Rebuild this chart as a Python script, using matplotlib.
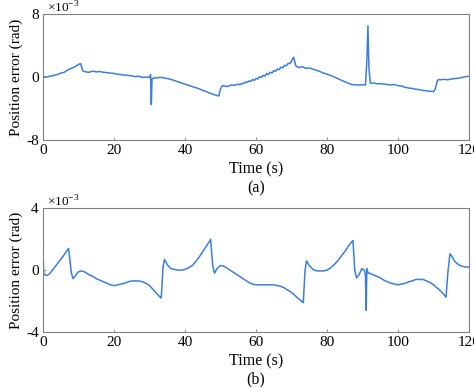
import matplotlib
matplotlib.use("Agg")
import matplotlib.pyplot as plt

# ---- data (position error, units of 1e-3 rad), (time s, error) pairs ----
top_points = [
    (0, 0.05), (1, 0.0), (2, 0.1), (3, 0.2), (4, 0.3), (5, 0.5), (6, 0.6), (7, 0.9),
    (8, 1.1), (9, 1.3), (10, 1.6), (10.6, 1.7), (11.2, 0.8), (12, 0.65), (13, 0.6),
    (14, 0.75), (15, 0.65), (16, 0.7), (17, 0.6), (18, 0.55), (19, 0.5), (20, 0.45),
    (21, 0.35), (22, 0.3), (23, 0.25), (24, 0.2), (25, 0.15), (26, 0.05), (27, 0.1),
    (28, -0.05), (29, 0.0), (30, -0.05), (30.3, 0.3), (30.5, -3.5), (30.7, -0.2),
    (31, -0.15), (32, -0.1), (33, -0.05), (34, -0.1), (35, -0.2), (36, -0.3),
    (37, -0.45), (38, -0.6), (39, -0.75), (40, -0.9), (41, -1.05), (42, -1.2),
    (43, -1.35), (44, -1.5), (45, -1.7), (46, -1.85), (47, -2.05), (48, -2.2),
    (49, -2.35), (49.5, -2.4), (50, -1.5), (50.5, -1.1), (51, -1.15), (52, -1.2),
    (53, -1.0), (54, -1.05), (55, -0.9), (55.5, -0.98), (56, -0.8), (56.5, -0.85),
    (57, -0.62), (57.5, -0.7), (58, -0.5), (58.5, -0.55), (59, -0.32), (59.5, -0.42),
    (60, -0.18), (60.5, -0.25), (61, 0.05), (61.5, -0.05), (62, 0.22), (62.5, 0.12),
    (63, 0.42), (63.5, 0.3), (64, 0.62), (64.5, 0.5), (65, 0.82), (65.5, 0.72),
    (66, 1.02), (66.5, 0.92), (67, 1.25), (67.5, 1.15), (68, 1.48), (68.5, 1.42),
    (69, 1.72), (69.5, 1.7), (70, 2.0), (70.3, 2.3), (70.6, 2.5), (71.2, 1.4),
    (72, 1.2), (73, 1.3), (74, 1.1), (75, 1.15), (76, 1.0), (77, 0.85), (78, 0.7),
    (79, 0.5), (80, 0.35), (81, 0.2), (82, 0.0), (83, -0.2), (84, -0.4), (85, -0.6),
    (86, -0.8), (87, -0.95), (88, -1.0), (89, -1.0), (90, -1.0), (90.8, -1.0),
    (91.2, 2.0), (91.5, 6.5), (91.8, 1.0), (92.2, -0.8), (93, -0.75), (94, -0.85),
    (95, -0.85), (96, -0.9), (97, -0.95), (98, -1.0), (99, -0.95), (100, -1.1),
    (101, -1.15), (102, -1.3), (103, -1.4), (104, -1.45), (105, -1.55), (106, -1.6),
    (107, -1.7), (108, -1.75), (109, -1.8), (110, -1.85), (110.5, -1.5), (111, -0.5),
    (111.5, -0.3), (112, -0.35), (113, -0.3), (114, -0.35), (115, -0.25), (116, -0.2),
    (117, -0.15), (118, -0.05), (119, 0.05), (120, 0.1),
]

bottom_points = [
    (0, 1.2), (0.2, -0.2), (0.5, -0.3), (1, -0.35), (1.5, -0.3), (2, -0.2), (3, 0.1),
    (4, 0.4), (5, 0.7), (6, 1.0), (7, 1.35), (7.2, 1.4), (7.6, 0.6), (8, -0.2),
    (8.5, -0.55), (9, -0.4), (10, -0.1), (11, -0.05), (12, -0.15), (13, -0.3),
    (14, -0.4), (15, -0.55), (16, -0.65), (17, -0.75), (18, -0.85), (19, -0.95),
    (20, -1.0), (21, -0.95), (22, -0.9), (23, -0.85), (24, -0.75), (25, -0.7),
    (26, -0.7), (27, -0.7), (28, -0.75), (29, -0.85), (30, -1.0), (31, -1.25),
    (32, -1.5), (33, -1.75), (33.3, -1.8), (33.8, 0.2), (34.2, 0.7), (35, 0.35),
    (36, 0.1), (37, 0.05), (38, 0.0), (39, 0.0), (40, 0.05), (41, 0.15), (42, 0.3),
    (43, 0.55), (44, 0.85), (45, 1.2), (46, 1.55), (47, 1.9), (47.2, 2.0), (47.8, 0.3),
    (48.3, -0.2), (49, 0.1), (50, 0.3), (51, 0.25), (52, 0.1), (53, -0.05), (54, -0.2),
    (55, -0.35), (56, -0.5), (57, -0.65), (58, -0.8), (59, -0.9), (60, -0.95),
    (61, -0.95), (62, -0.95), (63, -0.95), (64, -0.95), (65, -0.95), (66, -1.0),
    (67, -1.05), (68, -1.15), (69, -1.3), (70, -1.45), (71, -1.65), (72, -1.85),
    (73, -2.05), (73.3, -2.1), (73.8, 0.0), (74.2, 0.6), (75, 0.3), (76, 0.05),
    (77, -0.05), (78, -0.05), (79, -0.05), (80, 0.0), (81, 0.15), (82, 0.35), (83, 0.6),
    (84, 0.9), (85, 1.2), (86, 1.55), (87, 1.85), (87.3, 1.9), (87.8, 0.0), (88.3, -0.5),
    (89, -0.3), (89.8, 0.1), (90.5, 0.0), (90.8, -0.3), (91.0, -2.6), (91.2, 0.1),
    (91.6, -0.2), (92, -0.2), (93, -0.3), (94, -0.4), (95, -0.5), (96, -0.65),
    (97, -0.75), (98, -0.85), (99, -0.9), (100, -0.95), (101, -0.9), (102, -0.85),
    (103, -0.75), (104, -0.7), (105, -0.6), (106, -0.6), (107, -0.6), (108, -0.7),
    (109, -0.8), (110, -0.95), (111, -1.15), (112, -1.35), (113, -1.6), (113.5, -1.75),
    (114, -0.2), (114.6, 1.05), (115, 0.95), (116, 0.55), (117, 0.35), (118, 0.25),
    (119, 0.2), (120, 0.2),
]

top_t = [p[0] for p in top_points]
top_e = [p[1] for p in top_points]
bot_t = [p[0] for p in bottom_points]
bot_e = [p[1] for p in bottom_points]

x_ticks = [0, 20, 40, 60, 80, 100, 120]
top_yticks = [-8, 0, 8]
bot_yticks = [-4, 0, 4]

plt.rcParams['font.family'] = ['Liberation Serif', 'DejaVu Serif']
plt.rcParams['mathtext.fontset'] = 'custom'
plt.rcParams['mathtext.rm'] = 'Liberation Serif'

LINE = '#3a7ee0'
SPINE = '#808080'

fig = plt.figure(figsize=(4.74, 3.87), dpi=100)
ax1 = fig.add_axes([0.0907, 0.638, 0.899, 0.326])
ax2 = fig.add_axes([0.0907, 0.142, 0.899, 0.320])

for ax, t, e, yt, lab in [(ax1, top_t, top_e, top_yticks, '(a)'),
                          (ax2, bot_t, bot_e, bot_yticks, '(b)')]:
    ax.plot(t, e, color=LINE, lw=1.1)
    ax.set_xlim(0, 120)
    ax.set_ylim(yt[0], yt[-1])
    ax.set_xticks(x_ticks)
    ax.set_yticks(yt)
    ax.set_yticklabels([str(v) for v in yt])
    ax.tick_params(direction='in', length=2.5, width=0.6, color=SPINE,
                   labelsize=11, pad=3, top=False, right=False)
    for s in ax.spines.values():
        s.set_color(SPINE)
        s.set_linewidth(0.8)
    ax.set_ylabel('Position error (rad)', fontsize=11, labelpad=2)
    ax.set_xlabel('Time (s)', fontsize=11.5, labelpad=3)
    ax.text(0.5, -0.385, lab, transform=ax.transAxes, ha='center', va='center',
            fontsize=11.5)
    ax.text(0.01, 0.99, r'$\times10^{-3}$', transform=ax.transAxes,
            ha='left', va='bottom', fontsize=9.5)

fig.savefig('out.png', dpi=100)
